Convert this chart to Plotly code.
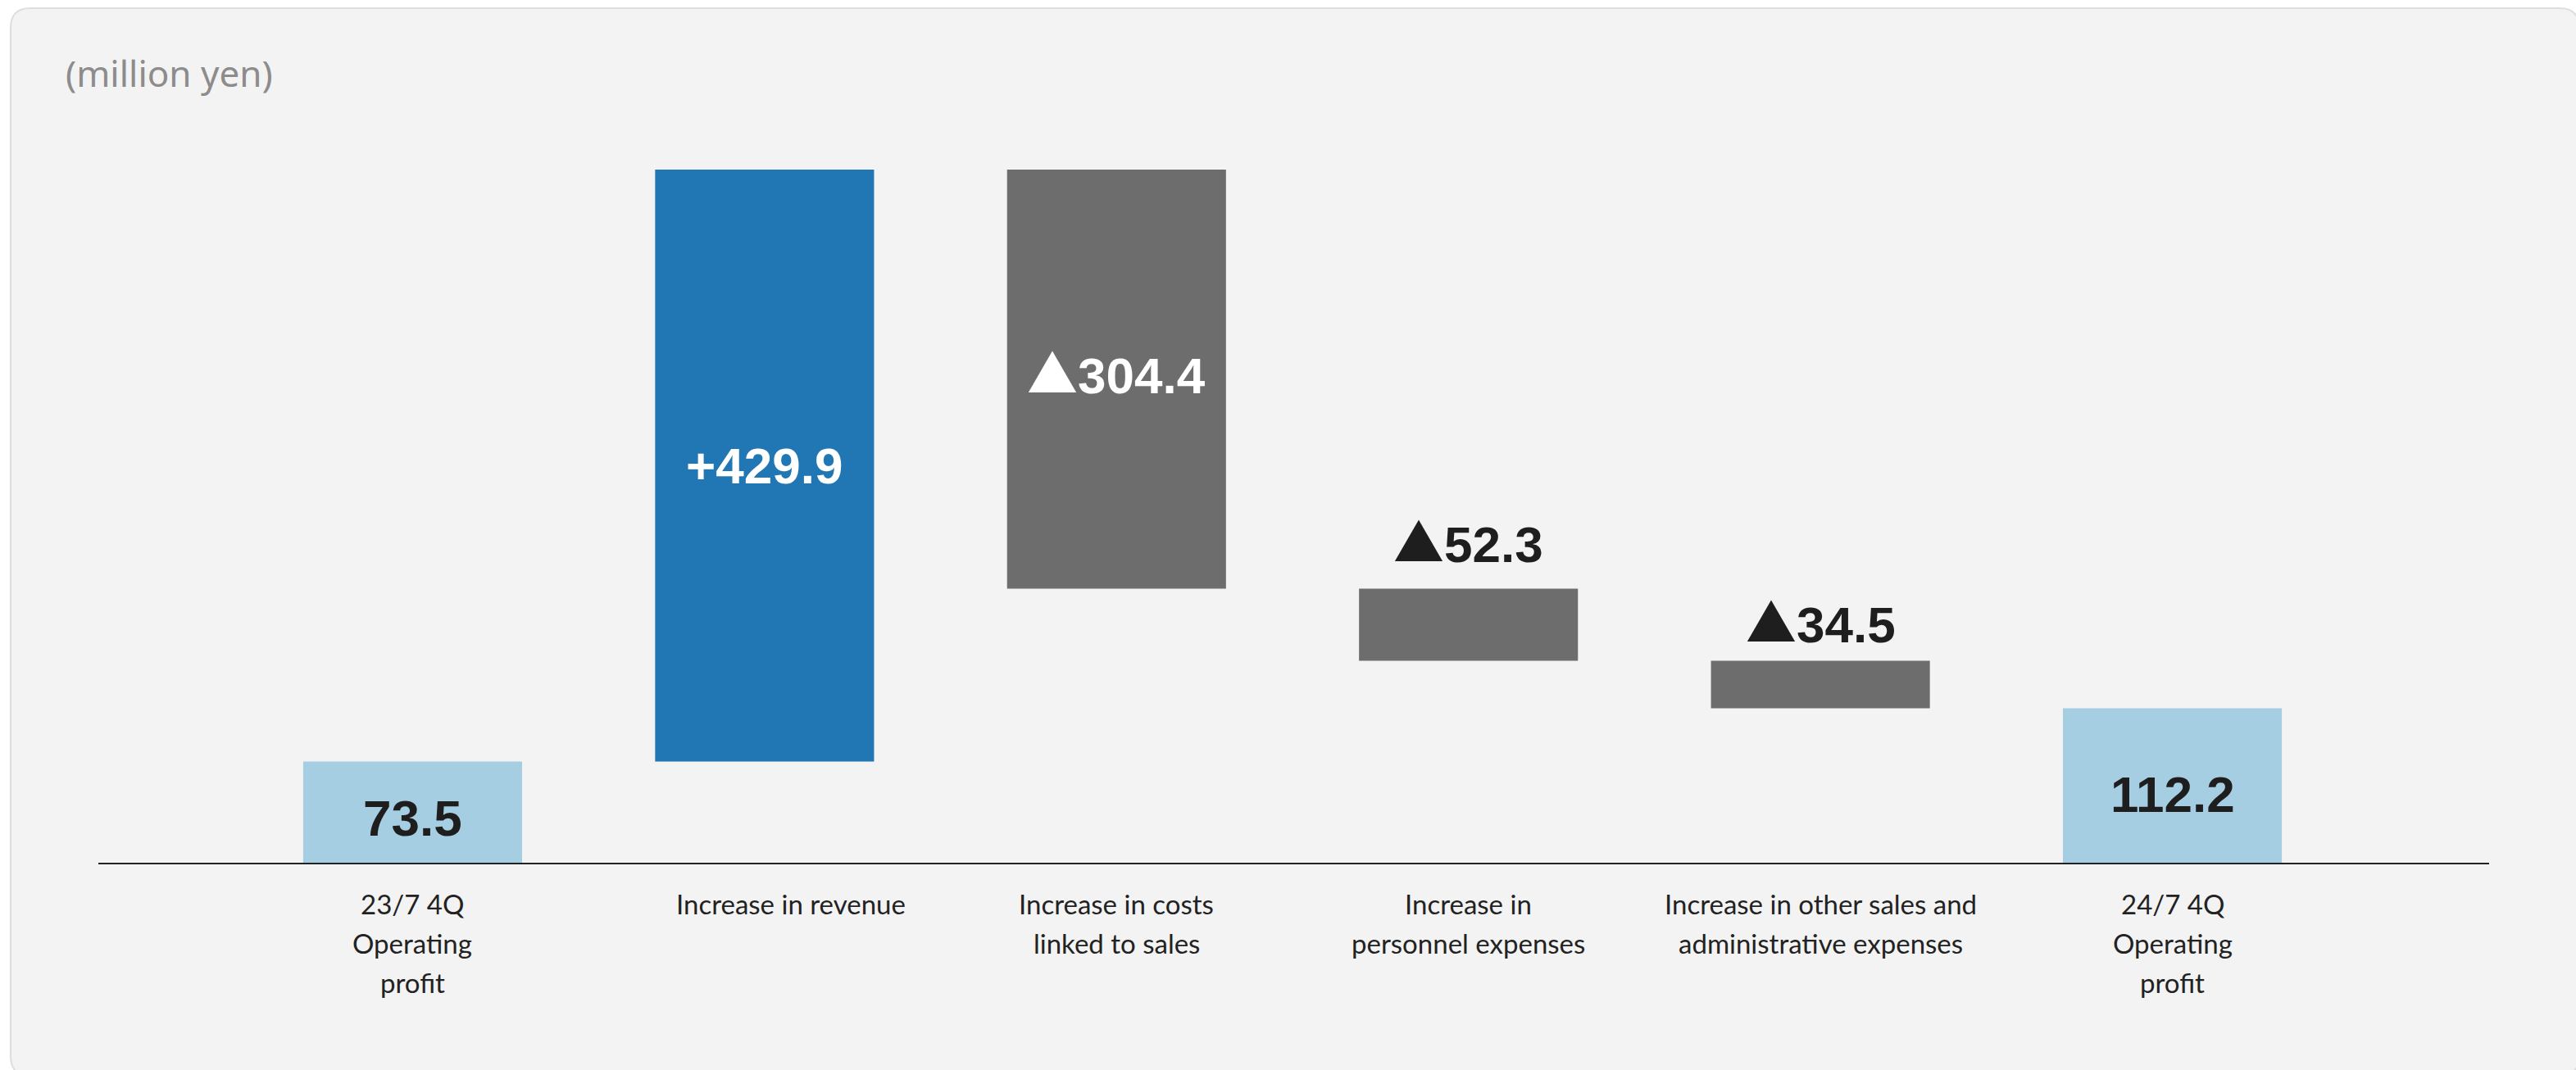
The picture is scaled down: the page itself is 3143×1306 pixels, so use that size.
import plotly.graph_objects as go

# ---------------- data ----------------
categories = [
    "23/7 4Q\nOperating\nprofit",
    "Increase in revenue",
    "Increase in costs\nlinked to sales",
    "Increase in\npersonnel expenses",
    "Increase in other sales and\nadministrative expenses",
    "24/7 4Q\nOperating\nprofit",
]
values = [73.5, 429.9, -304.4, -52.3, -34.5, 112.2]
measures = ["absolute", "relative", "relative", "relative", "relative", "total"]
value_prefixes = ["", "+", "▲", "▲", "▲", ""]
value_numbers = ["73.5", "429.9", "304.4", "52.3", "34.5", "112.2"]
unit_label = "(million yen)"

# ---------------- styles ----------------
W, H = 3143, 1306
L, R, T, B = 120, 106, 150, 253
plot_w, plot_h = W - L - R, H - T - B
YMAX = 537.3
XRANGE = [-0.893, 5.9]

C_TOTAL = "#a6cee3"
C_INC = "#2077b4"
C_DEC = "#6d6d6d"
C_TEXT = "#1e1e1e"

label_inside = [True, True, True, False, False, True]
label_color = [C_TEXT, "white", "white", C_TEXT, C_TEXT, C_TEXT]
label_shift = [-7, 0, 10, 60, 49, -11]
cat_xshift = [0, 32, 0, 0, 0, 0]

xs = list(range(len(categories)))

fig = go.Figure(go.Waterfall(
    x=xs, y=values, measure=measures,
    width=0.622,
    increasing=dict(marker=dict(color=C_INC)),
    decreasing=dict(marker=dict(color=C_DEC)),
    totals=dict(marker=dict(color=C_TOTAL)),
    connector=dict(visible=False),
    textinfo="none", hoverinfo="skip",
))


def fmt_label(prefix, num):
    if prefix == "▲":
        return ("<span style=\"font-family:'Noto Sans CJK JP'\">▲</span>" + num)
    return prefix + num


# value labels (positions derived from the cumulative values)
run = 0.0
annotations = []
for i, (v, m) in enumerate(zip(values, measures)):
    if m == "absolute":
        lo, hi = 0.0, v
        run = v
    elif m == "total":
        lo, hi = 0.0, run
    else:
        lo, hi = sorted([run, run + v])
        run += v
    y = (lo + hi) / 2 if label_inside[i] else hi
    annotations.append(dict(
        x=i, y=y, xref="x", yref="y",
        text=fmt_label(value_prefixes[i], value_numbers[i]), showarrow=False,
        xanchor="center", yanchor="middle", yshift=label_shift[i],
        font=dict(family="Liberation Sans, Arial, sans-serif", size=62,
                  color=label_color[i], weight="bold"),
    ))

# category labels, one annotation per line
LINE_GAP = 48
for i, cat in enumerate(categories):
    for k, line in enumerate(cat.split("\n")):
        annotations.append(dict(
            x=i, y=0, xref="x", yref="y", text=line, showarrow=False,
            xanchor="center", yanchor="middle", yshift=-(50 + LINE_GAP * k),
            xshift=cat_xshift[i],
            font=dict(family="Lato, sans-serif", size=33, color="#222222"),
        ))


def px_x(p):
    return (p - L) / plot_w


def px_y(p):
    return (H - B - p) / plot_h


annotations.append(dict(
    x=px_x(78), y=px_y(89), xref="paper", yref="paper", text=unit_label,
    showarrow=False, xanchor="left", yanchor="middle",
    font=dict(family="Noto Sans, sans-serif", size=44, color="#8c8c8c"),
))

# rounded card background
x0, y0, x1, y1, rad = 13, 10, 3147, 1313, 24


def pt(px, py):
    return f"{px_x(px):.6f},{px_y(py):.6f}"


path = (
    f"M {pt(x0 + rad, y0)} L {pt(x1 - rad, y0)} Q {pt(x1, y0)} {pt(x1, y0 + rad)} "
    f"L {pt(x1, y1 - rad)} Q {pt(x1, y1)} {pt(x1 - rad, y1)} "
    f"L {pt(x0 + rad, y1)} Q {pt(x0, y1)} {pt(x0, y1 - rad)} "
    f"L {pt(x0, y0 + rad)} Q {pt(x0, y0)} {pt(x0 + rad, y0)} Z"
)

fig.update_layout(
    width=W, height=H, autosize=False,
    margin=dict(l=L, r=R, t=T, b=B, pad=0),
    paper_bgcolor="white", plot_bgcolor="rgba(0,0,0,0)",
    showlegend=False,
    annotations=annotations,
    shapes=[dict(type="path", path=path, xref="paper", yref="paper",
                 fillcolor="#f3f3f3", line=dict(color="#dedede", width=2),
                 layer="below")],
    xaxis=dict(range=XRANGE, showticklabels=False, showgrid=False, zeroline=False,
               showline=True, linecolor="#222222", linewidth=2, ticks=""),
    yaxis=dict(range=[0, YMAX], showticklabels=False, showgrid=False,
               zeroline=False, showline=False, ticks=""),
)

fig.write_html("out.html")
